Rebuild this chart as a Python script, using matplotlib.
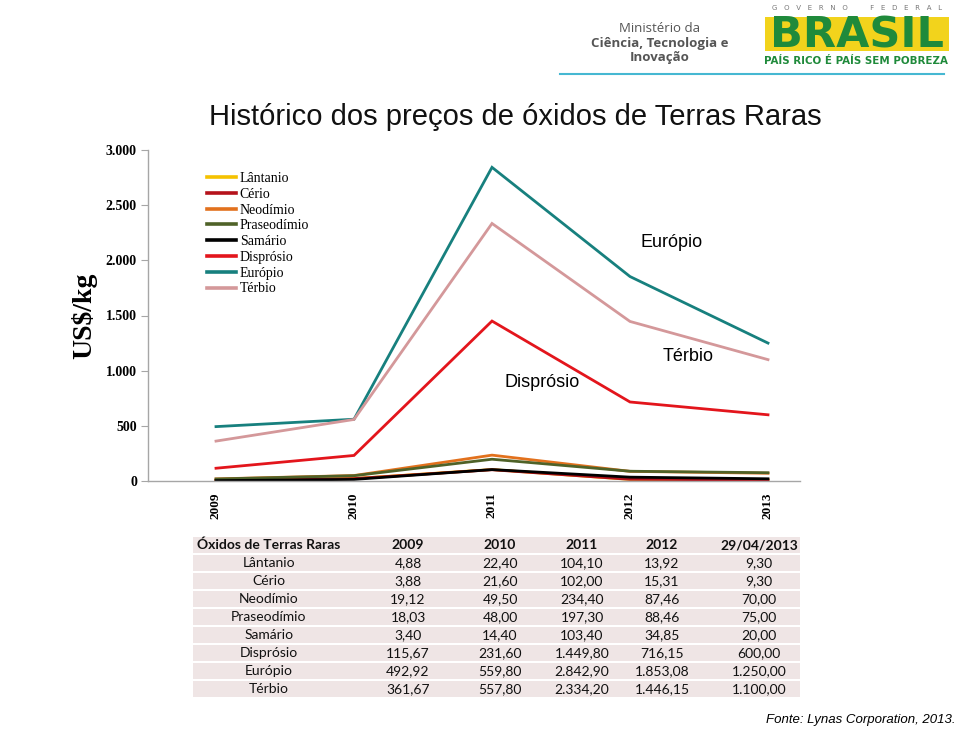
import matplotlib
matplotlib.use("Agg")
import matplotlib.pyplot as plt
from matplotlib.patches import Rectangle
from matplotlib.lines import Line2D

# ---------------- data ----------------
years = [2009, 2010, 2011, 2012, 2013]
year_headers = ["2009", "2010", "2011", "2012", "29/04/2013"]
elements = ["Lântanio", "Cério", "Neodímio", "Praseodímio", "Samário",
            "Disprósio", "Európio", "Térbio"]
lantanio = [4.88, 22.40, 104.10, 13.92, 9.30]
cerio = [3.88, 21.60, 102.00, 15.31, 9.30]
neodimio = [19.12, 49.50, 234.40, 87.46, 70.00]
praseodimio = [18.03, 48.00, 197.30, 88.46, 75.00]
samario = [3.40, 14.40, 103.40, 34.85, 20.00]
disprosio = [115.67, 231.60, 1449.80, 716.15, 600.00]
europio = [492.92, 559.80, 2842.90, 1853.08, 1250.00]
terbio = [361.67, 557.80, 2334.20, 1446.15, 1100.00]
series = [lantanio, cerio, neodimio, praseodimio, samario, disprosio, europio, terbio]
colors = ["#f5c200", "#b5121b", "#e2711d", "#4f6228", "#000000",
          "#e3151c", "#17807e", "#d4989a"]
yticks = [0, 500, 1000, 1500, 2000, 2500, 3000]
ytick_labels = ["0", "500", "1.000", "1.500", "2.000", "2.500", "3.000"]

W, H = 960, 731
fig = plt.figure(figsize=(W / 100, H / 100), dpi=100)


def px(x, y):
    return x / W, 1 - y / H


def fmt(v):
    s = f"{v:,.2f}"
    return s.replace(",", "X").replace(".", ",").replace("X", ".")


# ---------------- chart ----------------
ax_l, ax_r, ax_t, ax_b = 148, 800, 150, 481
ax = fig.add_axes([ax_l / W, 1 - ax_b / H, (ax_r - ax_l) / W, (ax_b - ax_t) / H])
for vals, c, name in zip(series, colors, elements):
    ax.plot(years, vals, color=c, lw=2.0, label=name, solid_joinstyle="miter")

ax.set_ylim(0, 3000)
ax.set_xlim(2009 - 68 / 138, 2013 + 32 / 138)
for s in ["top", "right"]:
    ax.spines[s].set_visible(False)
for s in ["left", "bottom"]:
    ax.spines[s].set_color("#a6a6a6")
    ax.spines[s].set_linewidth(1.0)
ax.set_yticks(yticks)
ax.set_yticklabels(ytick_labels, fontfamily="Liberation Serif", fontweight="bold", fontsize=10)
ax.tick_params(axis="y", length=5, color="#a6a6a6", pad=3)
ax.set_xticks(years)
ax.set_xticklabels([str(y) for y in years], rotation=90, fontfamily="Liberation Serif",
                   fontweight="bold", fontsize=9.5)
ax.tick_params(axis="x", length=0, pad=8)
ax.set_ylabel("US$/kg", fontfamily="Liberation Serif", fontweight="bold", fontsize=20,
              labelpad=6)

leg = ax.legend(loc="upper left", bbox_to_anchor=px(207, 172), bbox_transform=fig.transFigure,
                frameon=False, borderpad=0, borderaxespad=0, labelspacing=0.2,
                handlelength=2.1, handletextpad=0.25,
                prop={"family": "Liberation Serif", "size": 10})
for h in leg.get_lines():
    h.set_linewidth(2.6)

ax.text(2012.30, 2166, "Európio", ha="center", va="center", fontsize=13,
        fontfamily="Liberation Sans")
ax.text(2012.42, 1124, "Térbio", ha="center", va="center", fontsize=13,
        fontfamily="Liberation Sans")
ax.text(2011.36, 897, "Disprósio", ha="center", va="center", fontsize=13,
        fontfamily="Liberation Sans")

# ---------------- title ----------------
fig.text(*px(515, 117), "Histórico dos preços de óxidos de Terras Raras", ha="center",
         va="center", fontsize=21, fontfamily="Liberation Sans", color="#111111")

# ---------------- header logos ----------------
fig.text(*px(660, 28), "Ministério da", ha="center", va="center", fontsize=9.5,
         fontfamily="Open Sans", color="#555555")
fig.text(*px(660, 43), "Ciência, Tecnologia e", ha="center", va="center", fontsize=9.5,
         fontfamily="Open Sans", fontweight="bold", color="#555555")
fig.text(*px(660, 57), "Inovação", ha="center", va="center", fontsize=9.5,
         fontfamily="Open Sans", fontweight="bold", color="#555555")

x0, y0 = px(765, 51)
x1, y1 = px(949, 17)
fig.patches.append(Rectangle((x0, y0), x1 - x0, y1 - y0, transform=fig.transFigure,
                             facecolor="#f2d31c", edgecolor="none"))
fig.text(*px(857, 36), "BRASIL", ha="center", va="center", fontsize=31,
         fontfamily="DejaVu Sans", fontweight="heavy", color="#1f8a3b")
fig.text(*px(857, 8), "G   O   V   E   R   N   O          F   E   D   E   R   A   L",
         ha="center", va="center", fontsize=5, fontfamily="DejaVu Sans", color="#777777")
fig.text(*px(856, 61), "PAÍS RICO É PAÍS SEM POBREZA", ha="center", va="center",
         fontsize=7.4, fontfamily="DejaVu Sans", fontweight="bold", color="#1f8a3b")
fig.lines.append(Line2D([560 / W, 944 / W], [1 - 74 / H, 1 - 74 / H],
                        transform=fig.transFigure, color="#46b8d2", lw=1.5))

# ---------------- table ----------------
t_left, t_right, t_top, row_h = 193, 800, 536, 18
col_centers = [269, 408, 500, 582, 662, 759]
rows = [["Óxidos de Terras Raras"] + year_headers]
for name, vals in zip(elements, series):
    rows.append([name] + [fmt(v) for v in vals])
for i, row in enumerate(rows):
    top = t_top + i * row_h
    bx, by = px(t_left, top + row_h - 1)
    bx2, by2 = px(t_right, top + 1)
    fig.patches.append(Rectangle((bx, by), bx2 - bx, by2 - by, transform=fig.transFigure,
                                 facecolor="#efe5e5", edgecolor="none"))
    for j, txt in enumerate(row):
        fig.text(*px(col_centers[j], top + row_h / 2), txt, ha="center", va="center",
                 fontsize=10, fontfamily="Lato",
                 fontweight="bold" if i == 0 else "normal", color="#111111")

fig.text(*px(955, 720), "Fonte: Lynas Corporation, 2013.", ha="right", va="center",
         fontsize=9.5, fontstyle="italic", fontfamily="Liberation Sans")

fig.savefig("out.png", dpi=100)
